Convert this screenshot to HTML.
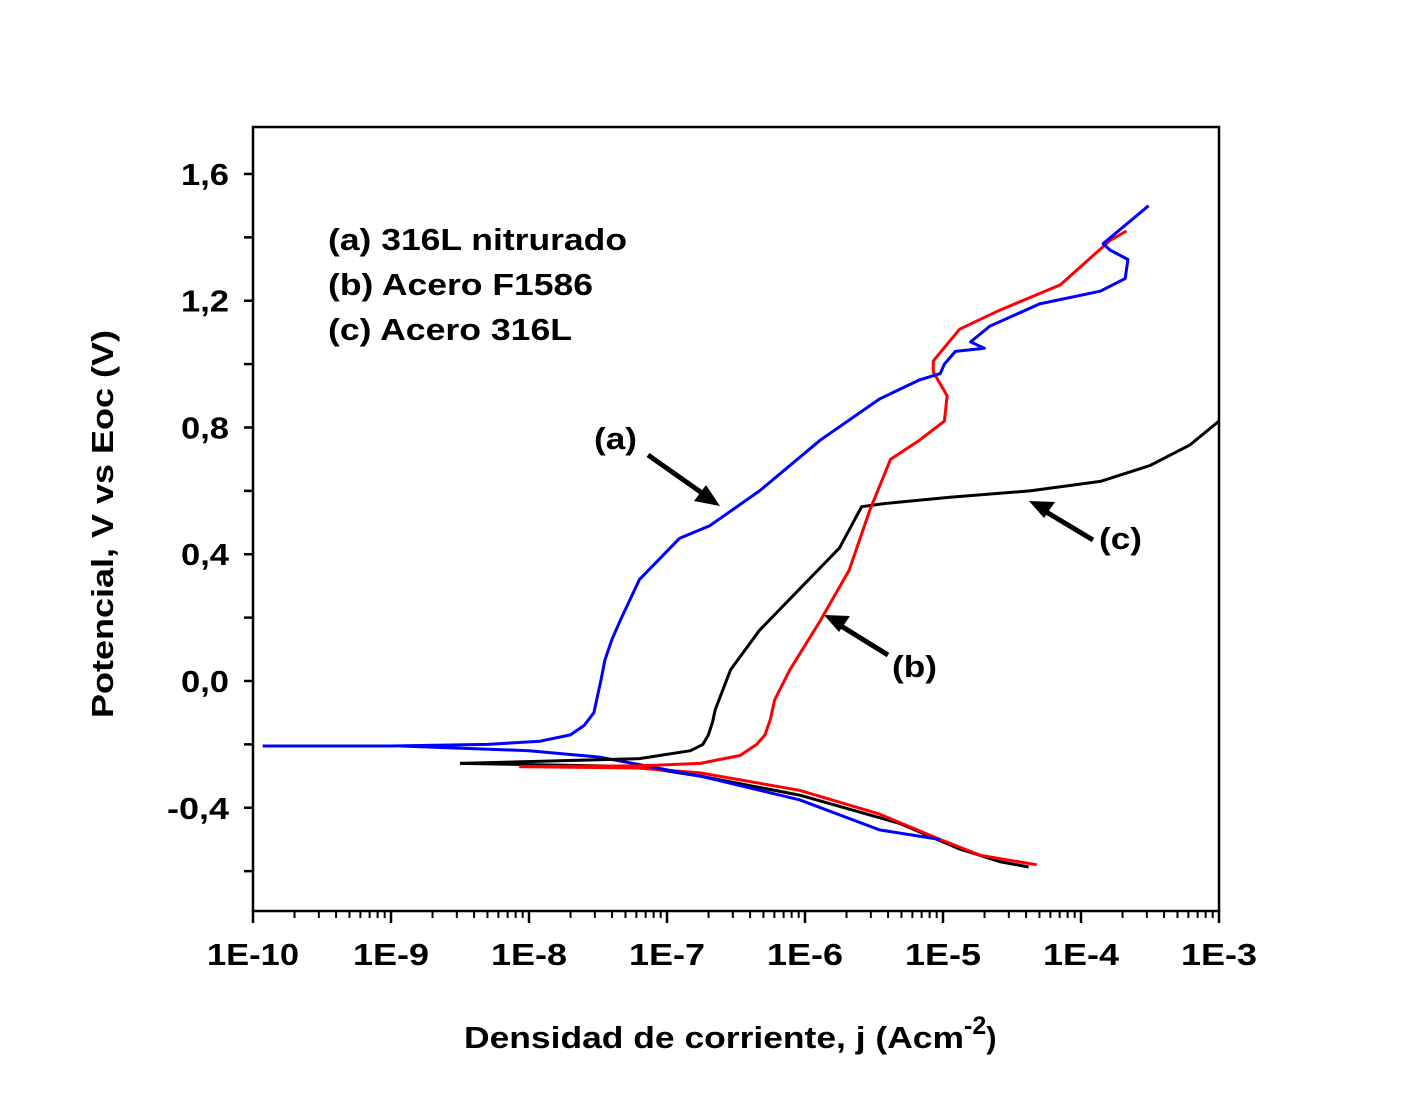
<!DOCTYPE html>
<html><head><meta charset="utf-8"><style>
body{margin:0;background:#fff}
svg text{font-family:"Liberation Sans",Arial,sans-serif;font-weight:bold;fill:#000}
</style></head><body>
<svg id="chart" width="1417" height="1094" viewBox="0 0 1417 1094" xmlns="http://www.w3.org/2000/svg">
<g id="axes"></g>
<g id="series"></g>
<g>
<text x="328" y="250" font-size="31" textLength="299" lengthAdjust="spacingAndGlyphs">(a) 316L nitrurado</text>
<text x="328" y="295" font-size="31" textLength="265" lengthAdjust="spacingAndGlyphs">(b) Acero F1586</text>
<text x="328" y="340" font-size="31" textLength="244" lengthAdjust="spacingAndGlyphs">(c) Acero 316L</text>
</g>
<g>
<text x="594" y="449" font-size="31" textLength="43" lengthAdjust="spacingAndGlyphs">(a)</text>
<line x1="648" y1="455" x2="712" y2="500" stroke="#000" stroke-width="5"/>
<polygon points="720,506 694,501 706,485" fill="#000"/>
<text x="1099" y="549" font-size="31" textLength="43" lengthAdjust="spacingAndGlyphs">(c)</text>
<line x1="1093" y1="540" x2="1038" y2="507" stroke="#000" stroke-width="5"/>
<polygon points="1029,501 1055,502 1044,518" fill="#000"/>
<text x="892" y="677" font-size="31" textLength="45" lengthAdjust="spacingAndGlyphs">(b)</text>
<line x1="888" y1="655" x2="833" y2="621" stroke="#000" stroke-width="5"/>
<polygon points="824,615 850,616 839,632" fill="#000"/>
</g>
<text transform="translate(113,718) rotate(-90)" font-size="31" textLength="388" lengthAdjust="spacingAndGlyphs">Potencial, V vs Eoc (V)</text>
<text x="464" y="1048" font-size="31"><tspan textLength="500" lengthAdjust="spacingAndGlyphs">Densidad de corriente, j (Acm</tspan><tspan dy="-14" font-size="25">-2</tspan><tspan dy="14">)</tspan></text>
</svg>
<script>
const xTickLabels=["1E-10","1E-9","1E-8","1E-7","1E-6","1E-5","1E-4","1E-3"];
const yTickValues=[-0.4,0,0.4,0.8,1.2,1.6];
const yTickLabels=["-0,4","0,0","0,4","0,8","1,2","1,6"];
const aLogJ=[-9.93,-9.0,-8.3,-7.92,-7.7,-7.6,-7.53,-7.51,-7.48,-7.45,-7.4,-7.34,-7.2,-6.91,-6.69,-6.33,-5.89,-5.46,-5.17,-5.02,-4.99,-4.91,-4.70,-4.80,-4.66,-4.30,-3.86,-3.68,-3.66,-3.79,-3.84,-3.51];
const aV=[-0.205,-0.205,-0.2,-0.19,-0.17,-0.14,-0.1,-0.06,0.0,0.066,0.13,0.19,0.32,0.45,0.49,0.60,0.76,0.89,0.95,0.97,1.0,1.04,1.05,1.07,1.12,1.19,1.23,1.27,1.33,1.36,1.38,1.50];
const aCathLogJ=[-8.93,-8.0,-7.49,-6.76,-6.04,-5.46,-5.02];
const aCathV=[-0.205,-0.22,-0.24,-0.30,-0.375,-0.47,-0.50];
const bLogJ=[-8.07,-7.2,-6.76,-6.47,-6.35,-6.29,-6.25,-6.22,-6.11,-5.89,-5.68,-5.53,-5.38,-5.17,-4.99,-4.97,-5.07,-5.07,-4.88,-4.59,-4.15,-3.79,-3.67];
const bV=[-0.27,-0.268,-0.26,-0.235,-0.2,-0.17,-0.12,-0.06,0.035,0.19,0.35,0.54,0.70,0.76,0.82,0.90,0.975,1.01,1.11,1.17,1.25,1.39,1.42];
const bCathLogJ=[-8.07,-7.2,-6.76,-6.04,-5.46,-5.02,-4.73,-4.32];
const bCathV=[-0.27,-0.275,-0.29,-0.345,-0.42,-0.50,-0.55,-0.58];
const cLogJ=[-8.5,-7.2,-6.83,-6.74,-6.70,-6.67,-6.65,-6.54,-6.33,-6.04,-5.75,-5.59,-5.42,-4.95,-4.37,-3.86,-3.50,-3.21,-3.0];
const cV=[-0.26,-0.245,-0.22,-0.2,-0.17,-0.13,-0.09,0.035,0.16,0.29,0.42,0.55,0.56,0.58,0.60,0.63,0.68,0.745,0.82];
const cCathLogJ=[-8.5,-7.2,-6.76,-6.04,-5.31,-4.88,-4.59,-4.38];
const cCathV=[-0.26,-0.27,-0.30,-0.36,-0.45,-0.53,-0.57,-0.587];

const L=253,R=1219,T=127,B=911;
const xs=lj=>L+(lj+10)*(R-L)/7;
const ys=v=>681-v*316.9;
const NS="http://www.w3.org/2000/svg";
function mk(tag,attrs,parent){const e=document.createElementNS(NS,tag);for(const k in attrs)e.setAttribute(k,attrs[k]);parent.appendChild(e);return e;}
const ax=document.getElementById('axes');
const frame=mk('rect',{x:L,y:T,width:R-L,height:B-T,fill:'none',stroke:'#000','stroke-width':2.5},ax);


for(let d=-10;d<=-3;d++){
  const x=xs(d);
  mk('line',{x1:x,y1:B,x2:x,y2:B+12,stroke:'#000','stroke-width':2.5},ax);
  const t=mk('text',{x:x,y:B+54,'text-anchor':'middle','font-size':31,textLength:d===-10?92:76,lengthAdjust:'spacingAndGlyphs'},ax);
  t.textContent=xTickLabels[d+10];
  
  
  if(d<-3)for(let m=2;m<=9;m++){const xm=xs(d+Math.log10(m));mk('line',{x1:xm,y1:B,x2:xm,y2:B+7,stroke:'#000','stroke-width':2},ax);}
}
for(let v=-0.6;v<=1.61;v+=0.2){
  const y=ys(v);mk('line',{x1:L-9,y1:y,x2:L,y2:y,stroke:'#000','stroke-width':2.5},ax);
}
yTickValues.forEach((v,i)=>{
  const t=mk('text',{x:L-24,y:ys(v)+11,'text-anchor':'end','font-size':31,textLength:v<0?62:48,lengthAdjust:'spacingAndGlyphs'},ax);
  t.textContent=yTickLabels[i];
  
  
});
const sg=document.getElementById('series');
function line(xa,ya,color,name){
  const d=xa.map((x,i)=>(i?'L':'M')+xs(x).toFixed(1)+','+ys(ya[i]).toFixed(1)).join(' ');
  const p=mk('path',{d:d,fill:'none',stroke:color,'stroke-width':3,'stroke-linejoin':'round'},sg);
  
  
}
line(cCathLogJ,cCathV,'#000','series-c-cathodic');
line(bCathLogJ,bCathV,'#f00','series-b-cathodic');
line(aCathLogJ,aCathV,'#00f','series-a-cathodic');
line(cLogJ,cV,'#000','series-c-anodic');
line(bLogJ,bV,'#f00','series-b-anodic');
line(aLogJ,aV,'#00f','series-a-anodic');
</script>
</body></html>
